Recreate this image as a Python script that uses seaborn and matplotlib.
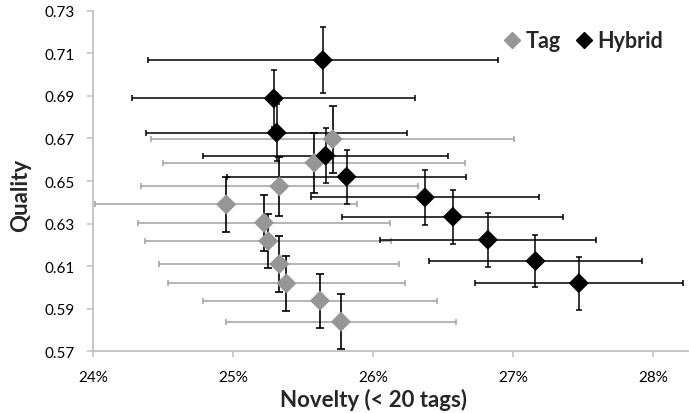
import matplotlib
matplotlib.use("Agg")
import matplotlib.pyplot as plt
from matplotlib.ticker import FuncFormatter
import seaborn as sns
import pandas as pd

# Values (novelty in %, quality score)
tag_novelty = [25.71, 25.58, 25.33, 24.95, 25.22, 25.25, 25.33, 25.38, 25.62, 25.77]
tag_quality = [0.6697, 0.6586, 0.6475, 0.6390, 0.6304, 0.6218, 0.6110, 0.6019, 0.5938, 0.5839]
tag_nov_err = [1.30, 1.08, 0.99, 0.935, 0.904, 0.88, 0.858, 0.845, 0.833, 0.82]
tag_qual_err = [0.0157, 0.0141, 0.0138, 0.0129, 0.0132, 0.0128, 0.0130, 0.0128, 0.0127, 0.0129]

hybrid_novelty = [25.64, 25.29, 25.31, 25.66, 25.81, 26.37, 26.57, 26.82, 27.16, 27.47]
hybrid_quality = [0.7068, 0.6888, 0.6727, 0.6619, 0.6520, 0.6423, 0.6332, 0.6224, 0.6124, 0.6020]
hybrid_nov_err = [1.25, 1.01, 0.93, 0.874, 0.852, 0.817, 0.79, 0.774, 0.76, 0.744]
hybrid_qual_err = [0.0155, 0.0134, 0.0134, 0.0129, 0.0127, 0.0130, 0.0127, 0.0127, 0.0122, 0.0124]

x_ticks = [24, 25, 26, 27, 28]
y_ticks = [0.57, 0.59, 0.61, 0.63, 0.65, 0.67, 0.69, 0.71, 0.73]

methods = ["Tag", "Hybrid"]
colors = {"Tag": "#969696", "Hybrid": "#000000"}

df = pd.DataFrame({
    "novelty": tag_novelty + hybrid_novelty,
    "quality": tag_quality + hybrid_quality,
    "method": ["Tag"] * len(tag_novelty) + ["Hybrid"] * len(hybrid_novelty),
})

sns.set_style("ticks")
plt.rcParams["font.family"] = ["Lato", "DejaVu Sans"]

fig = plt.figure(figsize=(6.89, 4.14), dpi=100)
ax = fig.add_axes([0.1354, 0.149, 0.8631, 0.8227])

# error bars: Tag has gray horizontal bars, black vertical ones
ax.errorbar(tag_novelty, tag_quality, xerr=tag_nov_err, fmt="none",
            ecolor="#a0a0a0", elinewidth=1.1, capsize=2.5, capthick=1.1, zorder=1)
ax.errorbar(tag_novelty, tag_quality, yerr=tag_qual_err, fmt="none",
            ecolor="black", elinewidth=1.2, capsize=3, capthick=1.2, zorder=2)
ax.errorbar(hybrid_novelty, hybrid_quality, xerr=hybrid_nov_err, yerr=hybrid_qual_err,
            fmt="none", ecolor="black", elinewidth=1.1, capsize=2.5, capthick=1.1, zorder=3)

sns.scatterplot(data=df, x="novelty", y="quality", hue="method", hue_order=methods,
                palette=colors, marker="D", s=105, edgecolor="none", ax=ax, zorder=4,
                legend=False)

ax.set_xlim(24, 28.25)
ax.set_ylim(0.57, 0.73)
ax.set_xticks(x_ticks)
ax.set_yticks(y_ticks)
ax.xaxis.set_major_formatter(FuncFormatter(lambda v, p: f"{v:.0f}%"))
ax.yaxis.set_major_formatter(FuncFormatter(lambda v, p: f"{v:.2f}"))

for side in ["top", "right"]:
    ax.spines[side].set_visible(False)
for side in ["left", "bottom"]:
    ax.spines[side].set_color("#c0c0c0")
    ax.spines[side].set_linewidth(1.3)
ax.tick_params(axis="both", colors="#c0c0c0", labelcolor="black", labelsize=11,
               length=4.5, width=1.1)
ax.tick_params(axis="x", pad=9)
ax.tick_params(axis="y", pad=9)

ax.set_xlabel("Novelty (< 20 tags)", fontsize=16, fontweight="bold")
ax.set_ylabel("Quality", fontsize=16, fontweight="bold")
ax.xaxis.label.set_va("center")
ax.yaxis.label.set_va("center")
ax.xaxis.set_label_coords(0.472, -0.140)
ax.yaxis.set_label_coords(-0.123, 0.462)

handles = [plt.Line2D([], [], marker="D", ls="none", color=colors[m], markersize=8.5) for m in methods]
ax.legend(handles, methods, loc="upper right", bbox_to_anchor=(0.99, 1.0), ncol=2, frameon=False,
          prop={"weight": "bold", "size": 15.5}, handletextpad=0.1, columnspacing=0.6,
          handlelength=1.0)

fig.savefig("out.png", dpi=100)
